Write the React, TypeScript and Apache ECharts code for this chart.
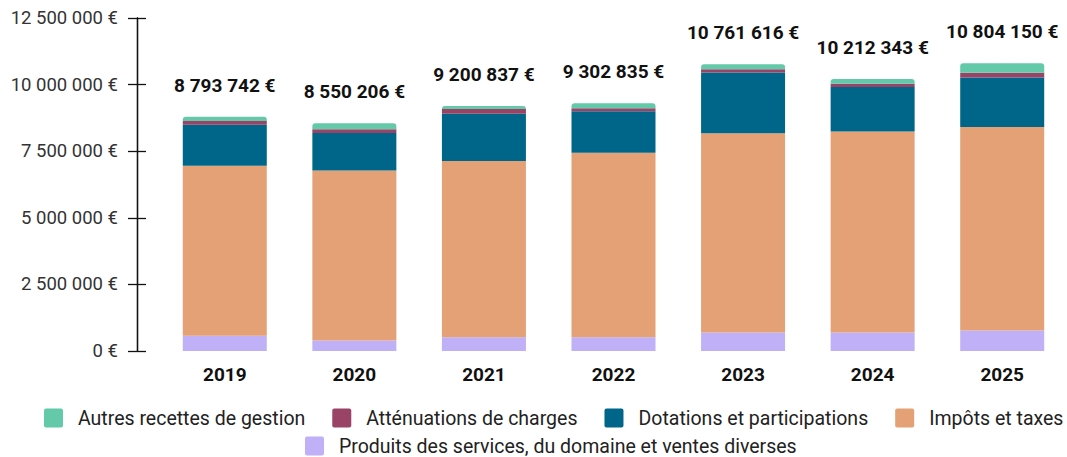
import React, { useEffect, useRef } from "react";
import * as echarts from "echarts";

const years = ["2019", "2020", "2021", "2022", "2023", "2024", "2025"];
const produits = [570000, 395000, 515000, 515000, 695000, 695000, 770000];
const impots = [6380000, 6380000, 6615000, 6930000, 7480000, 7545000, 7640000];
const dotations = [1540000, 1410000, 1780000, 1550000, 2275000, 1670000, 1860000];
const attenuations = [140000, 140000, 175000, 120000, 125000, 125000, 175000];
const autres = [163742, 225206, 115837, 187835, 186616, 177343, 359150];
const totals = [8793742, 8550206, 9200837, 9302835, 10761616, 10212343, 10804150];
const yTicks = [0, 2500000, 5000000, 7500000, 10000000, 12500000];

const fmt = (v: number) =>
  Math.round(v).toString().replace(/\B(?=(\d{3})+(?!\d))/g, " ") + " €";

const FONT = "Roboto";
const ICON = "path://M2,0 H17 Q19,0 19,2 V17 Q19,19 17,19 H2 Q0,19 0,17 V2 Q0,0 2,0 Z";

export default function App() {
  const ref = useRef<HTMLDivElement>(null);
  useEffect(() => {
    document.body.style.margin = "0";
    const chart = echarts.init(ref.current!, undefined, { renderer: "svg" });
    const mk = (name: string, data: number[], color: string, top = false) => ({
      name,
      type: "bar",
      stack: "total",
      data,
      barWidth: 84,
      itemStyle: { color, borderRadius: top ? [3, 3, 0, 0] : 0 },
      label: top
        ? {
            show: true,
            position: "top",
            distance: 22,
            formatter: (p: any) => fmt(totals[p.dataIndex]),
            fontFamily: FONT,
            fontWeight: "bold",
            fontSize: 19,
            color: "#111",
          }
        : { show: false },
      emphasis: { disabled: true },
    });
    const yBase = {
      type: "value",
      min: yTicks[0],
      max: yTicks[yTicks.length - 1],
      interval: 2500000,
      offset: 23,
      splitLine: { show: false },
      axisLine: { show: true, lineStyle: { color: "#111", width: 1.3 } },
    };
    const legendBase = {
      itemWidth: 19,
      itemHeight: 19,
      itemGap: 27,
      icon: ICON,
      width: 1060,
      textStyle: { fontFamily: FONT, fontSize: 19.5, color: "#222", padding: [0, 0, 0, 10] },
    };
    chart.setOption({
      animation: false,
      grid: { left: 160, top: 18, width: 911, height: 333 },
      legend: [
        {
          ...legendBase,
          left: 39,
          top: 403,
          data: [
            "Autres recettes de gestion",
            "Atténuations de charges",
            "Dotations et participations",
            "Impôts et taxes",
          ],
        },
        {
          ...legendBase,
          left: 300,
          top: 431,
          data: ["Produits des services, du domaine et ventes diverses"],
        },
      ],
      xAxis: {
        type: "category",
        data: years,
        axisLine: { show: false },
        axisTick: { show: false },
        axisLabel: {
          margin: 14,
          fontFamily: FONT,
          fontWeight: "bold",
          fontSize: 19,
          color: "#111",
        },
      },
      yAxis: [
        {
          ...yBase,
          axisTick: { show: true, length: 9, lineStyle: { color: "#111", width: 1.3 } },
          axisLabel: {
            margin: 19,
            fontFamily: FONT,
            fontSize: 18.5,
            color: "#333",
            formatter: (v: number) => fmt(v),
          },
        },
        {
          ...yBase,
          position: "left",
          axisTick: { show: true, inside: true, length: 9, lineStyle: { color: "#111", width: 1.3 } },
          axisLabel: { show: false },
        },
      ],
      series: [
        mk("Produits des services, du domaine et ventes diverses", produits, "#bfb0f8"),
        mk("Impôts et taxes", impots, "#e4a176"),
        mk("Dotations et participations", dotations, "#006689"),
        mk("Atténuations de charges", attenuations, "#994466"),
        mk("Autres recettes de gestion", autres, "#63c9a9", true),
      ],
    });
    return () => chart.dispose();
  }, []);
  return <div ref={ref} style={{ width: 1067, height: 457 }} />;
}
